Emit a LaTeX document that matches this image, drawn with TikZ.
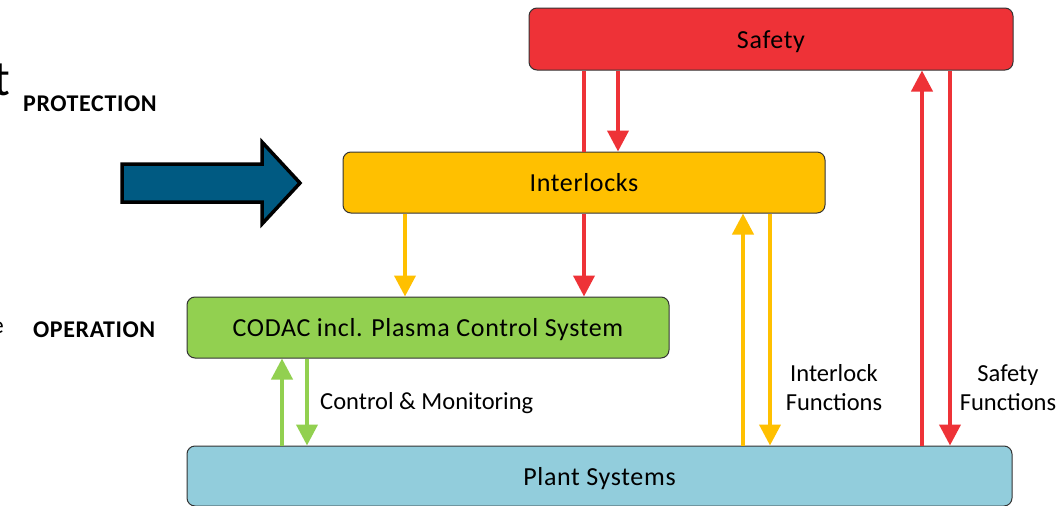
\documentclass[tikz,border=0pt]{standalone}
\usepackage{fontspec}
\setmainfont{Carlito}
\usetikzlibrary{arrows.meta}

\definecolor{safetyred}{HTML}{EE3237}
\definecolor{ilkyellow}{HTML}{FFC000}
\definecolor{codacgreen}{HTML}{92D050}
\definecolor{plantblue}{HTML}{92CDDC}
\definecolor{bigblue}{HTML}{005A82}
\definecolor{edgegray}{HTML}{333333}

\begin{document}
\begin{tikzpicture}[x=1pt,y=-1pt,
  box/.style={draw=edgegray, line width=1pt, rounded corners=8pt, inner sep=0pt,
    text height=18pt, text depth=0pt,
    font=\fontsize{26}{30}\selectfont\addfontfeature{LetterSpace=2.5}},
  flow/.style={line width=4pt, -{Triangle[length=21pt,width=21pt]}},
  plain/.style={line width=4pt},
  lbl/.style={inner sep=0pt, font=\fontsize{24.5}{29}\selectfont},
  lbltwo/.style={inner sep=0pt, align=center, font=\fontsize{24.5}{29}\selectfont},
  tier/.style={inner sep=0pt, font=\fontsize{24}{28}\selectfont\bfseries\addfontfeature{LetterSpace=2.5}},
]
\useasboundingbox (0,0) rectangle (1063,506);
\clip (0,0) rectangle (1063,506);
\fill[white] (0,0) rectangle (1063,506);

% edge fragments of neighbouring text
\node[inner sep=0pt, anchor=base east, font=\fontsize{50}{56}\selectfont] (tfrag) at (10,95) {t};
\node[inner sep=0pt, anchor=base east, font=\fontsize{24}{28}\selectfont] (efrag) at (4,333) {e};

% tier labels
\node[tier, anchor=base west] (prot) at (23,111) {PROTECTION};
\node[tier, anchor=base west] (oper) at (33,337) {OPERATION};

% big block arrow
\draw[fill=bigblue, draw=black, line width=3.5pt, miter limit=10]
  (122,164) -- (262,164) -- (262,142) -- (300,183) -- (262,224) -- (262,202) -- (122,202) -- cycle;

% boxes
\node[box, fill=safetyred, minimum width=484pt, minimum height=62pt] (safety) at (771,39) {Safety};
\node[box, fill=ilkyellow, minimum width=482pt, minimum height=61pt] (interlocks) at (584,182.5) {Interlocks};
\node[box, fill=codacgreen, minimum width=482pt, minimum height=61pt] (codac) at (428,327.5) {CODAC incl. Plasma Control System};
\node[box, fill=plantblue, minimum width=825pt, minimum height=60pt] (plant) at (599.5,476) {Plant Systems};

% connector columns
\coordinate (cGu) at (282,0);
\coordinate (cGd) at (307,0);
\coordinate (cYa) at (405,0);
\coordinate (cRa) at (584,0);
\coordinate (cRb) at (618,0);
\coordinate (cYu) at (743,0);
\coordinate (cYd) at (770,0);
\coordinate (cRu) at (922,0);
\coordinate (cRd) at (950,0);

% safety <-> interlocks
\draw[plain, safetyred] (safety.south -| cRa) -- (interlocks.north -| cRa);
\draw[flow, safetyred] (safety.south -| cRb) -- (interlocks.north -| cRb);

% interlocks -> codac
\draw[flow, ilkyellow] (interlocks.south -| cYa) -- (codac.north -| cYa);
\draw[flow, safetyred] (interlocks.south -| cRa) -- (codac.north -| cRa);

% codac <-> plant
\draw[flow, codacgreen] (plant.north -| cGu) -- (codac.south -| cGu);
\draw[flow, codacgreen] (codac.south -| cGd) -- (plant.north -| cGd);

% interlocks <-> plant
\draw[flow, ilkyellow] (plant.north -| cYu) -- (interlocks.south -| cYu);
\draw[flow, ilkyellow] (interlocks.south -| cYd) -- (plant.north -| cYd);

% safety <-> plant
\draw[flow, safetyred] (plant.north -| cRu) -- (safety.south -| cRu);
\draw[flow, safetyred] (safety.south -| cRd) -- (plant.north -| cRd);

% connector labels
\node[lbl, anchor=base west] (cmlbl) at (320,409) {Control \& Monitoring};
\node[lbltwo] (ilflbl) at (834,388) {Interlock\\Functions};
\node[lbltwo] (sflbl) at (1008,388) {Safety\\Functions};
\end{tikzpicture}
\end{document}
